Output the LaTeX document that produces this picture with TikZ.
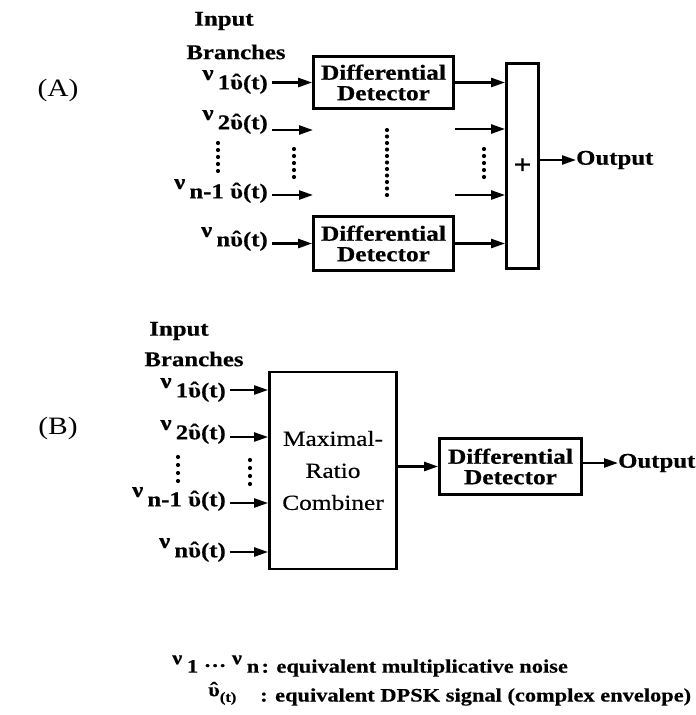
\documentclass[tikz,border=0pt]{standalone}
\usepackage{fontspec}
\setmainfont{Liberation Serif}[FakeStretch=1.18, BoldFeatures={FakeBold=0.5}]
\newfontfamily\boxfont{Liberation Serif}[FakeStretch=1.18, FakeBold=0.35]
\usetikzlibrary{arrows.meta,calc}
\newcommand\uh{\ooalign{υ\cr\hidewidth\raisebox{0.04em}{ˆ}\hidewidth\cr}}
\newcommand\nuup{\raisebox{0.45em}{ν}}
\tikzset{
  lbl/.style={font=\bfseries\fontsize{21}{23}\selectfont, inner sep=0pt},
  tag/.style={font=\fontsize{25}{27}\selectfont, inner sep=0pt},
  blk/.style={draw, line width=2.8pt, inner sep=0pt, align=center},
  ddbox/.style={blk, font=\bfseries\fontsize{21.5}{20.5}\selectfont},
  arr/.style={line width=2.4pt, -{Triangle[length=14pt,width=9pt]}},
  legend/.style={font=\bfseries\fontsize{19}{21}\selectfont, inner sep=0pt}
}
\begin{document}
\begin{tikzpicture}[x=1pt,y=-1pt]
\useasboundingbox (0,0) rectangle (696,715);
% ---------------- Panel A ----------------
\node[tag] (tA) at (58,90) {(A)};
\node[lbl] (inA) at (224,21) {Input};
\node[lbl] (brA) at (236,52) {Branches};
\node[ddbox, minimum width=140pt, minimum height=52pt] (dd1) at (383.5,82.5) {Differential\\Detector};
\node[ddbox, minimum width=140pt, minimum height=54pt] (dd2) at (383.5,243.5) {Differential\\Detector};
\node[blk, minimum width=32pt, minimum height=205pt, font=\bfseries\fontsize{27}{27}\selectfont] (sum) at (522.5,166) {+};
\node[lbl, anchor=west] (outA) at (576,160) {Output};
% input labels
\node[lbl, anchor=east] (a1) at (268,82) {\nuup\hspace{0.2em}1\uh(t)};
\node[lbl, anchor=east] (a2) at (268,122) {\nuup\hspace{0.2em}2\uh(t)};
\node[lbl, anchor=east] (a3) at (268,191) {\nuup\hspace{0.2em}n-1\hspace{0.3em}\uh(t)};
\node[lbl, anchor=east] (a4) at (268,239) {\nuup\hspace{0.2em}n\uh(t)};
\coordinate (e2) at (313,130);
\coordinate (e3) at (313,195);
\coordinate (s2) at (455,129);
\coordinate (s3) at (455,195);
\draw[arr, shorten <=4pt] (dd1.west -| a1.east) -- (dd1.west);
\draw[arr, shorten <=4pt] (e2 -| a2.east) -- (e2);
\draw[arr, shorten <=4pt] (e3 -| a3.east) -- (e3);
\draw[arr, shorten <=4pt] (dd2.west -| a4.east) -- (dd2.west);
\draw[arr] (dd1.east) -- (dd1.east -| sum.west);
\draw[arr] (s2) -- (s2 -| sum.west);
\draw[arr] (s3) -- (s3 -| sum.west);
\draw[arr] (dd2.east) -- (dd2.east -| sum.west);
\draw[arr] (sum.east |- outA.west) -- (outA.west);
% dots
\foreach \y in {143,150,...,171} \fill (218,\y) circle (2.1);
\foreach \y in {149,156,...,177} \fill (294,\y) circle (2.1);
\foreach \y in {130,136.5,...,196} \fill (387,\y) circle (2.1);
\foreach \y in {149,156,...,177} \fill (484,\y) circle (2.1);
% ---------------- Panel B ----------------
\node[tag] (tB) at (58,428) {(B)};
\node[lbl] (inB) at (179,331) {Input};
\node[lbl] (brB) at (194,359) {Branches};
\node[blk, minimum width=127pt, minimum height=197pt, font=\boxfont\fontsize{21.5}{32}\selectfont] (mrc) at (333,470.5) {Maximal-\\Ratio\\Combiner};
\node[ddbox, minimum width=142pt, minimum height=56pt] (dd3) at (510.5,466.5) {Differential\\Detector};
\node[lbl, anchor=west] (outB) at (618,463) {Output};
\node[lbl, anchor=east] (b1) at (226,390) {\nuup\hspace{0.2em}1\uh(t)};
\node[lbl, anchor=east] (b2) at (226,432) {\nuup\hspace{0.2em}2\uh(t)};
\node[lbl, anchor=east] (b3) at (226,499) {\nuup\hspace{0.2em}n-1\hspace{0.3em}\uh(t)};
\node[lbl, anchor=east] (b4) at (226,550) {\nuup\hspace{0.2em}n\uh(t)};
\coordinate (g1) at (268,390);
\coordinate (g2) at (268,437);
\coordinate (g3) at (268,503);
\coordinate (g4) at (268,552);
\foreach \i in {1,2,3,4} \draw[arr, shorten <=4pt] (g\i -| b\i.east) -- (g\i -| mrc.west);
\draw[arr] (mrc.east |- dd3.west) -- (dd3.west);
\draw[arr] (dd3.east |- outB.west) -- (outB.west);
\foreach \y in {457,465,...,482} \fill (178,\y) circle (2.1);
\foreach \y in {460,468,...,486} \fill (250,\y) circle (2.1);
% ---------------- Legend ----------------
\node[legend, anchor=west] (lg1) at (172,666) {\raisebox{0.45em}{ν}\hspace{0.25em}1\hspace{0.3em}\raisebox{0.3em}{…}\hspace{0.3em}\raisebox{0.45em}{ν}\hspace{0.25em}n\hspace{0.12em}: equivalent multiplicative noise};
\node[legend, anchor=west] (lg2a) at (208,696) {\uh\raisebox{-0.3em}{\fontsize{14}{14}\selectfont(t)}};
\node[legend, anchor=west] (lg2b) at (260,697) {: equivalent DPSK signal (complex envelope)};
\end{tikzpicture}
\end{document}
